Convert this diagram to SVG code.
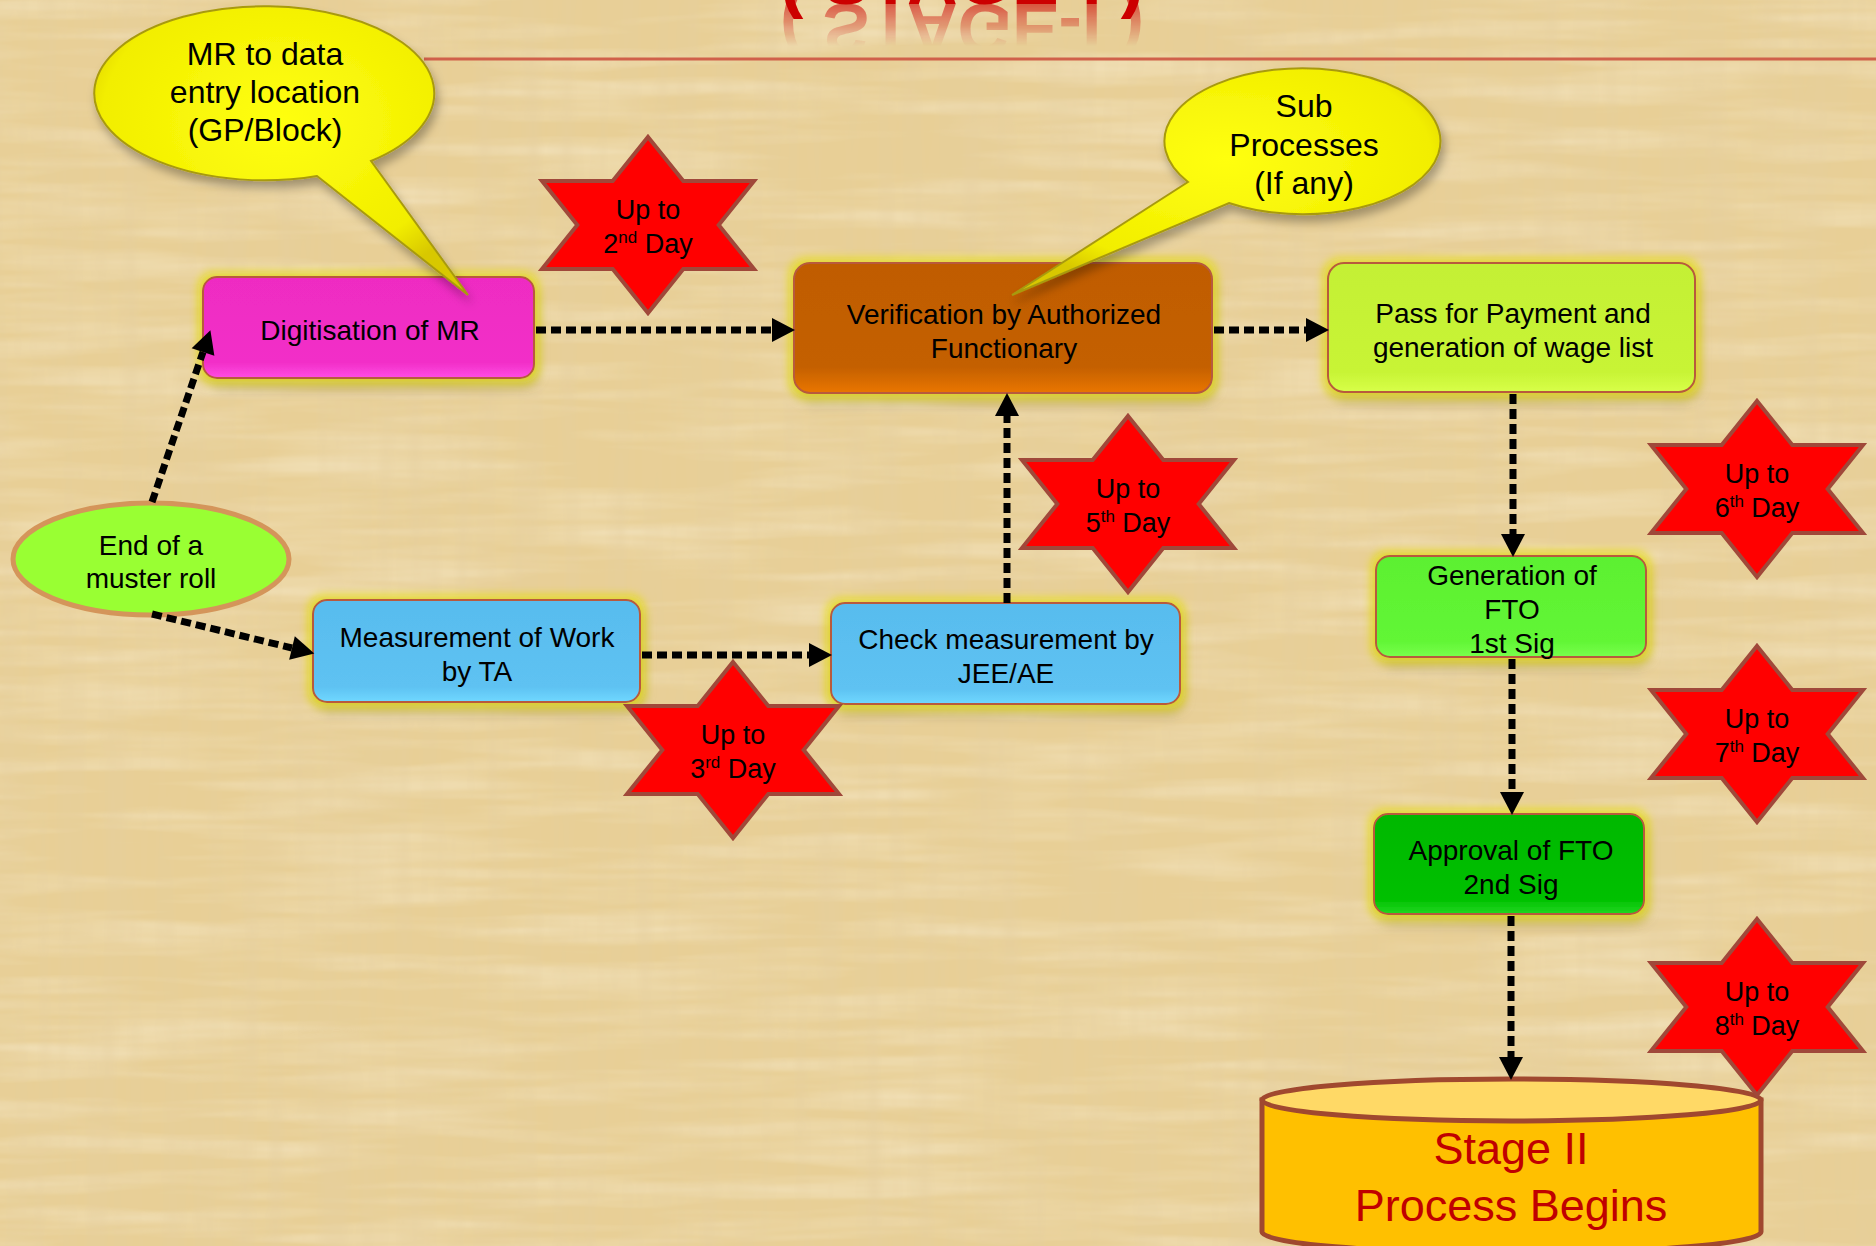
<svg xmlns="http://www.w3.org/2000/svg" width="1876" height="1246" viewBox="0 0 1876 1246">
<style>
.t{font-family:"Liberation Sans",Arial,sans-serif;fill:#000;text-anchor:middle}
.box{font-size:28px}
.call{font-size:32px}
.st{font-size:27px}
.sup{font-size:17px}
.con{fill:none;stroke:#000;stroke-width:7;stroke-dasharray:10 5}
.star{fill:#FF0000;stroke:#A0483A;stroke-width:4;stroke-linejoin:miter}
.bx{stroke:#B85A3C;stroke-width:2}
</style>
<defs>
<filter id="paperL" x="0" y="0" width="100%" height="100%">
<feTurbulence type="fractalNoise" baseFrequency="0.004 0.05" numOctaves="3" seed="4"/>
<feColorMatrix type="matrix" values="0 0 0 0 1  0 0 0 0 0.95  0 0 0 0 0.82  0.75 0 0 0 -0.3"/>
</filter>
<filter id="paperD" x="0" y="0" width="100%" height="100%">
<feTurbulence type="fractalNoise" baseFrequency="0.05 0.003" numOctaves="2" seed="9"/>
<feColorMatrix type="matrix" values="0 0 0 0 0.78  0 0 0 0 0.62  0 0 0 0 0.35  0 0.9 0 0 -0.32"/>
</filter>
<filter id="glow" x="-20%" y="-40%" width="140%" height="190%">
<feMorphology in="SourceAlpha" operator="dilate" radius="4" result="d"/>
<feGaussianBlur in="d" stdDeviation="5" result="b"/>
<feFlood flood-color="#E4DC10" flood-opacity="0.8"/>
<feComposite in2="b" operator="in" result="g"/>
<feGaussianBlur in="SourceAlpha" stdDeviation="6" result="s"/>
<feOffset in="s" dx="3" dy="9" result="so"/>
<feFlood flood-color="#000" flood-opacity="0.3"/>
<feComposite in2="so" operator="in" result="sh"/>
<feMerge><feMergeNode in="sh"/><feMergeNode in="g"/><feMergeNode in="SourceGraphic"/></feMerge>
</filter>
<filter id="shadow" x="-20%" y="-20%" width="140%" height="150%">
<feGaussianBlur in="SourceAlpha" stdDeviation="5"/>
<feOffset dx="3" dy="7" result="o"/>
<feFlood flood-color="#000" flood-opacity="0.3"/>
<feComposite in2="o" operator="in"/>
<feMerge><feMergeNode/><feMergeNode in="SourceGraphic"/></feMerge>
</filter>
<radialGradient id="gYel" cx="50%" cy="40%" r="60%">
<stop offset="0" stop-color="#FFFF10"/><stop offset="0.8" stop-color="#F2EE00"/><stop offset="1" stop-color="#D8C800"/>
</radialGradient>
<linearGradient id="gMag" x1="0" y1="0" x2="0" y2="1"><stop offset="0" stop-color="#EE2CC2"/><stop offset="0.85" stop-color="#F22FC8"/><stop offset="1" stop-color="#FF4CE4"/></linearGradient>
<linearGradient id="gOra" x1="0" y1="0" x2="0" y2="1"><stop offset="0" stop-color="#C05C00"/><stop offset="0.8" stop-color="#C46000"/><stop offset="1" stop-color="#EA7600"/></linearGradient>
<linearGradient id="gLim" x1="0" y1="0" x2="0" y2="1"><stop offset="0" stop-color="#C4F034"/><stop offset="0.85" stop-color="#C8F436"/><stop offset="1" stop-color="#D8FF48"/></linearGradient>
<linearGradient id="gBlu" x1="0" y1="0" x2="0" y2="1"><stop offset="0" stop-color="#58BCEE"/><stop offset="0.85" stop-color="#5EC2F2"/><stop offset="1" stop-color="#70D8FF"/></linearGradient>
<linearGradient id="gGr1" x1="0" y1="0" x2="0" y2="1"><stop offset="0" stop-color="#5CF030"/><stop offset="0.85" stop-color="#62F636"/><stop offset="1" stop-color="#78FF4C"/></linearGradient>
<linearGradient id="gGr2" x1="0" y1="0" x2="0" y2="1"><stop offset="0" stop-color="#00B800"/><stop offset="0.85" stop-color="#00C000"/><stop offset="1" stop-color="#20D820"/></linearGradient>
<linearGradient id="fade" gradientUnits="userSpaceOnUse" x1="0" y1="4" x2="0" y2="46"><stop offset="0" stop-color="#fff" stop-opacity="0.65"/><stop offset="1" stop-color="#fff" stop-opacity="0"/></linearGradient>
<mask id="refl" maskUnits="userSpaceOnUse" x="0" y="0" width="1876" height="80"><rect x="0" y="0" width="1876" height="80" fill="url(#fade)"/></mask>
<marker id="ah" markerUnits="userSpaceOnUse" markerWidth="24" markerHeight="26" refX="0" refY="12" orient="auto" overflow="visible">
<path d="M0,0 L23,12 L0,24 Z" fill="#000"/>
</marker>
<polygon id="star6" points="0,-88 35.3,-44 106,-44 70.7,0 106,44 35.3,44 0,88 -35.3,44 -106,44 -70.7,0 -106,-44 -35.3,-44"/>
</defs>

<g id="background">
<rect x="0" y="0" width="1876" height="1246" fill="#E8CF96"/>
<rect x="0" y="0" width="1876" height="1246" filter="url(#paperL)"/>
<rect x="0" y="0" width="1876" height="1246" filter="url(#paperD)"/>
</g>

<g id="title">
<text id="title-text" x="962" y="4" font-family="Liberation Sans,Arial,sans-serif" font-weight="bold" font-size="70" fill="#CC0000" text-anchor="middle">( STAGE-I )</text>
<g mask="url(#refl)">
<use href="#title-text" transform="translate(0,8) scale(1,-1)" opacity="0.9"/>
</g>
<line x1="424" y1="59" x2="1876" y2="59" stroke="#D0604A" stroke-width="3"/>
</g>

<g id="n-end">
<ellipse cx="151" cy="559" rx="138" ry="56" fill="#99FF33" stroke="#D4955A" stroke-width="5"/>
<text class="t box" x="151" y="555">End of a</text>
<text class="t box" x="151" y="588">muster roll</text>
</g>

<g id="n-digitise">
<rect class="bx" x="203" y="277" width="331" height="101" rx="14" fill="url(#gMag)" filter="url(#glow)"/>
<text class="t box" x="370" y="340">Digitisation of MR</text>
</g>

<g id="n-measure">
<rect class="bx" x="313" y="600" width="327" height="102" rx="14" fill="url(#gBlu)" filter="url(#glow)"/>
<text class="t box" x="477" y="647">Measurement of Work</text>
<text class="t box" x="477" y="681">by TA</text>
</g>

<g id="n-check">
<rect class="bx" x="831" y="603" width="349" height="101" rx="14" fill="url(#gBlu)" filter="url(#glow)"/>
<text class="t box" x="1006" y="649">Check measurement by</text>
<text class="t box" x="1006" y="683">JEE/AE</text>
</g>

<g id="n-verify">
<rect class="bx" x="794" y="263" width="418" height="130" rx="16" fill="url(#gOra)" stroke="#D86A2A" filter="url(#glow)"/>
<text class="t box" x="1004" y="324">Verification by Authorized</text>
<text class="t box" x="1004" y="358">Functionary</text>
</g>

<g id="n-pass">
<rect class="bx" x="1328" y="263" width="367" height="129" rx="16" fill="url(#gLim)" filter="url(#glow)"/>
<text class="t box" x="1513" y="323">Pass for Payment and</text>
<text class="t box" x="1513" y="357">generation of wage list</text>
</g>

<g id="n-genfto">
<rect class="bx" x="1376" y="556" width="270" height="101" rx="14" fill="url(#gGr1)" filter="url(#glow)"/>
<text class="t box" x="1512" y="585">Generation of</text>
<text class="t box" x="1512" y="619">FTO</text>
<text class="t box" x="1512" y="653">1st Sig</text>
</g>

<g id="n-approve">
<rect class="bx" x="1374" y="814" width="270" height="100" rx="14" fill="url(#gGr2)" filter="url(#glow)"/>
<text class="t box" x="1511" y="860">Approval of FTO</text>
<text class="t box" x="1511" y="894">2nd Sig</text>
</g>

<g id="n-stage2">
<path d="M1262,1100 L1262,1232 A249.5,21 0 0 0 1761,1232 L1761,1100 Z" fill="#FFC000" stroke="#A0482F" stroke-width="5"/>
<ellipse cx="1511.5" cy="1100" rx="249.5" ry="21" fill="#FFD966" stroke="#A0482F" stroke-width="5"/>
<text x="1511" y="1164" font-family="Liberation Sans,Arial,sans-serif" font-size="45" fill="#C00000" text-anchor="middle">Stage II</text>
<text x="1511" y="1221" font-family="Liberation Sans,Arial,sans-serif" font-size="45" fill="#C00000" text-anchor="middle">Process Begins</text>
</g>

<g id="connectors">
<line class="con" x1="152" y1="502" x2="203" y2="352" marker-end="url(#ah)"/>
<line class="con" x1="152" y1="614" x2="292" y2="648" marker-end="url(#ah)"/>
<line class="con" x1="536" y1="330" x2="772" y2="330" marker-end="url(#ah)"/>
<line class="con" x1="642" y1="655" x2="809" y2="655" marker-end="url(#ah)"/>
<line class="con" x1="1007" y1="603" x2="1007" y2="416" marker-end="url(#ah)"/>
<line class="con" x1="1214" y1="330" x2="1306" y2="330" marker-end="url(#ah)"/>
<line class="con" x1="1513" y1="394" x2="1513" y2="534" marker-end="url(#ah)"/>
<line class="con" x1="1512" y1="659" x2="1512" y2="792" marker-end="url(#ah)"/>
<line class="con" x1="1511" y1="916" x2="1511" y2="1057" marker-end="url(#ah)"/>
</g>

<g id="star-2nd">
<use href="#star6" class="star" transform="translate(648,225)"/>
<text class="t st" x="648" y="219">Up to</text>
<text class="t st" x="648" y="253">2<tspan class="sup" dy="-10">nd</tspan><tspan dy="10"> Day</tspan></text>
</g>
<g id="star-3rd">
<use href="#star6" class="star" transform="translate(733,750)"/>
<text class="t st" x="733" y="744">Up to</text>
<text class="t st" x="733" y="778">3<tspan class="sup" dy="-10">rd</tspan><tspan dy="10"> Day</tspan></text>
</g>
<g id="star-5th">
<use href="#star6" class="star" transform="translate(1128,504)"/>
<text class="t st" x="1128" y="498">Up to</text>
<text class="t st" x="1128" y="532">5<tspan class="sup" dy="-10">th</tspan><tspan dy="10"> Day</tspan></text>
</g>
<g id="star-6th">
<use href="#star6" class="star" transform="translate(1757,489)"/>
<text class="t st" x="1757" y="483">Up to</text>
<text class="t st" x="1757" y="517">6<tspan class="sup" dy="-10">th</tspan><tspan dy="10"> Day</tspan></text>
</g>
<g id="star-7th">
<use href="#star6" class="star" transform="translate(1757,734)"/>
<text class="t st" x="1757" y="728">Up to</text>
<text class="t st" x="1757" y="762">7<tspan class="sup" dy="-10">th</tspan><tspan dy="10"> Day</tspan></text>
</g>
<g id="star-8th">
<use href="#star6" class="star" transform="translate(1757,1007)"/>
<text class="t st" x="1757" y="1001">Up to</text>
<text class="t st" x="1757" y="1035">8<tspan class="sup" dy="-10">th</tspan><tspan dy="10"> Day</tspan></text>
</g>

<g id="callout-mr">
<path d="M371,161 L468,295 L317,176 A170,87 0 1 1 371,161 Z" fill="url(#gYel)" stroke="#A89A10" stroke-width="2" filter="url(#shadow)"/>
<text class="t call" x="265" y="65">MR to data</text>
<text class="t call" x="265" y="103">entry location</text>
<text class="t call" x="265" y="141">(GP/Block)</text>
</g>

<g id="callout-sub">
<path d="M1188,182 L1012,295 L1229,203 A138,73 0 1 0 1188,182 Z" fill="url(#gYel)" stroke="#A89A10" stroke-width="2" filter="url(#shadow)"/>
<text class="t call" x="1304" y="117">Sub</text>
<text class="t call" x="1304" y="156">Processes</text>
<text class="t call" x="1304" y="194">(If any)</text>
</g>
</svg>
